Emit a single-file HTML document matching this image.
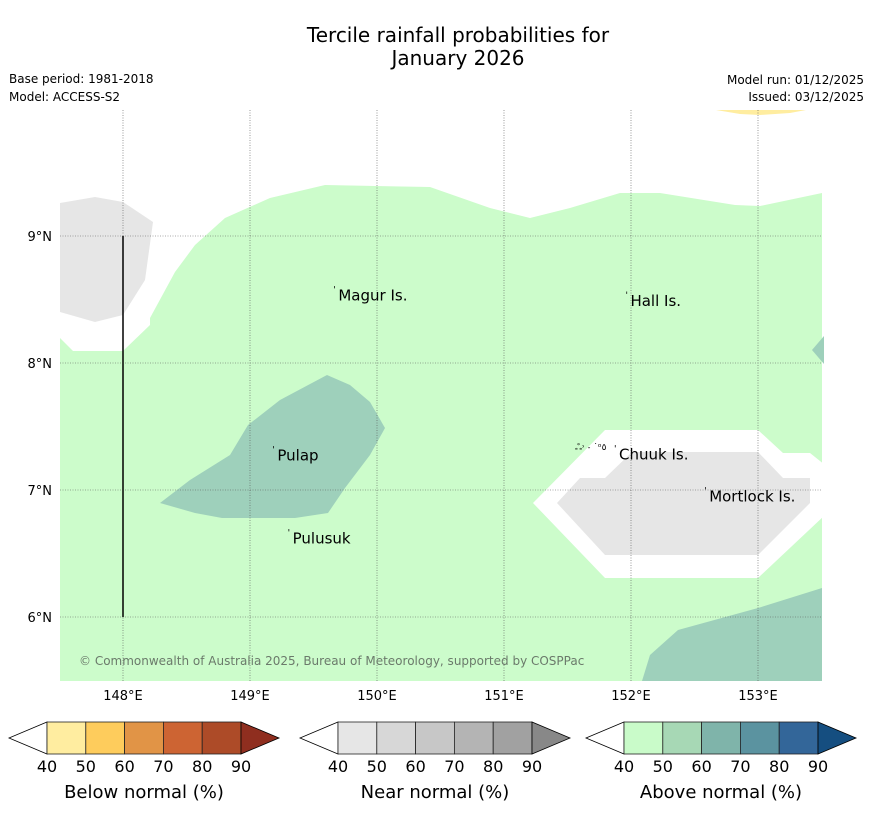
<!DOCTYPE html>
<html><head><meta charset="utf-8"><style>
body{margin:0;background:#fff;font-family:"Liberation Sans","DejaVu Sans",sans-serif}
svg{display:block}
text{font-family:"DejaVu Sans","Liberation Sans",sans-serif}
</style></head><body>
<svg id="c" width="873" height="816" xmlns="http://www.w3.org/2000/svg">
<text x="458" y="42" font-size="20" text-anchor="middle">Tercile rainfall probabilities for</text>
<text x="458" y="65" font-size="20" text-anchor="middle">January 2026</text>
<text x="9" y="83" font-size="12">Base period: 1981-2018</text>
<text x="9" y="101" font-size="12">Model: ACCESS-S2</text>
<text x="864" y="84" font-size="12" text-anchor="end">Model run: 01/12/2025</text>
<text x="864" y="101" font-size="12" text-anchor="end">Issued: 03/12/2025</text>
<g id="map"></g>
<g id="cbars"></g>
</svg>
<script>
const NS="http://www.w3.org/2000/svg";
const lonTicks=[148,149,150,151,152,153];
const latTicks=[9,8,7,6];
const lonLabels=["148°E","149°E","150°E","151°E","152°E","153°E"];
const latLabels=["9°N","8°N","7°N","6°N"];
const places=["Magur Is.","Hall Is.","Pulap","Chuuk Is.","Mortlock Is.","Pulusuk"];
const placeLon=[149.68,151.98,149.2,151.89,152.6,149.32];
const placeLat=[8.53,8.49,7.27,7.28,6.95,6.62];
const cbTicks=[40,50,60,70,80,90];
const cbTitles=["Below normal (%)","Near normal (%)","Above normal (%)"];
const cbColors=[["#ffeda0","#fecc5c","#e19446","#cd6433","#ad4b28","#8f2e1f"],
["#e6e6e6","#d7d7d7","#c7c7c7","#b4b4b4","#a1a1a1","#888888"],
["#c9fbc9","#a7d8b5","#7fb4aa","#5b93a0","#336699","#154e80"]];
const X=lon=>123+(lon-148)*127, Y=lat=>236+(9-lat)*127;
const map=document.getElementById('map');
function el(tag,a,p){const e=document.createElementNS(NS,tag);for(const k in a)e.setAttribute(k,a[k]);(p||map).appendChild(e);return e;}
function poly(pts,fill,name){const d=pts.map(p=>X(p[0]).toFixed(1)+','+Y(p[1]).toFixed(1)).join(' ');
 const e=el('polygon',{points:d,fill:fill});
 
 }
const xp=x=>148+(x-123)/127, yp=y=>9-(y-236)/127;
const P=a=>a.map(q=>[xp(q[0]),yp(q[1])]);
const green=P([[60,338],[73,351],[123,351],[150,325],[150,318],[175,272],[195,245],[225,218],[270,198],[325,185],[430,187],[490,208],[530,218],[570,208],[620,193],[660,193],[735,205],[760,206],[822,193],[822,681],[60,681]]);
const grayTL=P([[60,203],[95,197],[123,202],[153,222],[145,280],[123,315],[95,322],[60,312]]);
const tealPulap=P([[160,503],[190,480],[230,455],[248,425],[280,400],[327,375],[350,385],[370,402],[385,428],[370,455],[345,488],[328,513],[295,518],[222,518],[195,513]]);
const hexW=P([[533,503],[605,430],[758,430],[783,453],[810,453],[825,465],[825,515],[758,578],[605,578]]);
const hexG=P([[557,503],[580,478],[605,478],[632,452],[758,452],[783,478],[810,478],[810,503],[758,555],[605,555]]);
const tealR=P([[812,350],[824,336],[824,364]]);
const tealBR=P([[642,681],[650,655],[678,630],[758,608],[822,588],[822,681]]);
const yellow=P([[716,110],[806,110],[790,113],[760,115],[740,114]]);
poly(green,"#ccfccb","above-normal-40-region");
poly(grayTL,"#e6e6e6","near-normal-region-nw");
poly(tealPulap,"#9ed0bb","above-normal-50-region-pulap");
poly(hexW,"#ffffff","no-signal-region-chuuk");
poly(hexG,"#e6e6e6","near-normal-region-chuuk");
poly(tealR,"#9ed0bb","above-normal-50-region-east");
poly(tealBR,"#9ed0bb","above-normal-50-region-se");
poly(yellow,"#ffeda0","below-normal-region-top");
lonTicks.forEach((v,i)=>{const l=el('line',{x1:X(v),x2:X(v),y1:110,y2:681,stroke:'#555','stroke-width':0.6,'stroke-dasharray':'1,1.5'});
 
 
 const t=el('text',{x:X(v),y:700,'font-size':13,'text-anchor':'middle'});t.textContent=lonLabels[i];
 
 });
latTicks.forEach((v,i)=>{const l=el('line',{x1:60,x2:822,y1:Y(v),y2:Y(v),stroke:'#555','stroke-width':0.6,'stroke-dasharray':'1,1.5'});
 
 
 const t=el('text',{x:52,y:Y(v)+5,'font-size':13,'text-anchor':'end'});t.textContent=latLabels[i];
 
 });
const vl=el('line',{x1:X(148),x2:X(148),y1:Y(9),y2:Y(6),stroke:'#000','stroke-width':1.5});


places.forEach((n,i)=>{const t=el('text',{x:X(placeLon[i])+2,y:Y(placeLat[i])+5,'font-size':15});t.textContent=n;
 
 
 const d=el('text',{x:X(placeLon[i])-3,y:Y(placeLat[i])-3,'font-size':9});d.textContent="'";
 
 });
const chuukIsl=el('text',{x:575,y:450,'font-size':9});chuukIsl.textContent="ஃ˒ ˗ ˙ᵒ٥";


const cp=el('text',{x:79,y:665,'font-size':12,fill:'#6b7a6b'});cp.textContent="© Commonwealth of Australia 2025, Bureau of Meteorology, supported by COSPPac";


const cb=document.getElementById('cbars');
const cbLeft=[47,338,624], bw=38.8;
cbColors.forEach((cols,k)=>{const x0=cbLeft[k];
 const lt=el('polygon',{points:`${x0},722 ${x0},754 ${x0-38},738`,fill:'#fff',stroke:'#000','stroke-width':0.8},cb);
 
 
 for(let j=0;j<5;j++){const r=el('rect',{x:x0+j*bw,y:722,width:bw,height:32,fill:cols[j],stroke:'#222','stroke-width':0.8},cb);
  
  }
 const xe=x0+5*bw;
 const rt=el('polygon',{points:`${xe},722 ${xe},754 ${xe+38},738`,fill:cols[5],stroke:'#000','stroke-width':0.8},cb);
 
 
 cbTicks.forEach((v,j)=>{const t=el('text',{x:x0+j*bw,y:772,'font-size':16,'text-anchor':'middle'},cb);t.textContent=v;
  
  });
 const tt=el('text',{x:x0+2.5*bw,y:798,'font-size':18,'text-anchor':'middle'},cb);tt.textContent=cbTitles[k];
 
 
});
</script>
</body></html>
